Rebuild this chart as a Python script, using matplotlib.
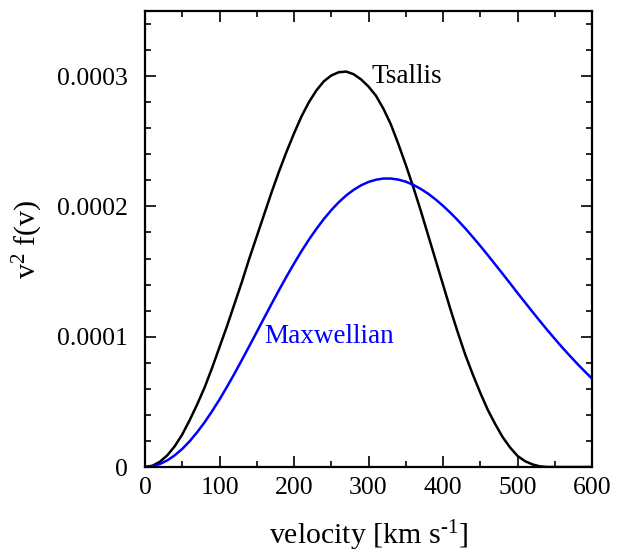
import numpy as np
import matplotlib
matplotlib.use("Agg")
import matplotlib.pyplot as plt
from matplotlib.ticker import MultipleLocator, FixedFormatter, FixedLocator

plt.rcParams['font.family'] = ['Liberation Serif', 'DejaVu Serif']
plt.rcParams['mathtext.fontset'] = 'custom'
plt.rcParams['mathtext.rm'] = 'Liberation Serif'
plt.rcParams['mathtext.it'] = 'Liberation Serif:italic'

# values (v in km/s, v^2 f(v) in units of 1e-4)
v_tsallis = [0, 10, 20, 30, 40, 50, 60, 70, 80, 90, 100, 110, 120, 130, 140,
             150, 160, 170, 180, 190, 200, 210, 220, 230, 240, 250, 260, 270,
             280, 290, 300, 310, 320, 330, 340, 350, 360, 370, 380, 390,
             400, 410, 420, 430, 440, 450, 460, 470, 480, 490, 500, 510, 520,
             530, 540, 550, 575, 600]
f_tsallis = [0, 0.01, 0.04, 0.09, 0.16, 0.25, 0.36, 0.48, 0.61, 0.76, 0.92,
             1.08, 1.25, 1.42, 1.60, 1.77, 1.94, 2.11, 2.27, 2.42, 2.56, 2.69,
             2.80, 2.89, 2.96, 3.005, 3.03, 3.035, 3.015, 2.975, 2.92, 2.85,
             2.75, 2.63, 2.48, 2.32, 2.15, 1.97, 1.78, 1.59, 1.40, 1.21, 1.03,
             0.86, 0.71, 0.57, 0.44, 0.33, 0.23, 0.15, 0.085, 0.045, 0.02,
             0.005, 0, 0, 0, 0]

v_maxwell = [0, 10, 20, 30, 40, 50, 60, 70, 80, 90, 100, 110, 120, 130, 140,
             150, 160, 170, 180, 190, 200, 210, 220, 230, 240, 250, 260, 270,
             280, 290, 300, 310, 320, 330, 340, 350, 360, 370, 380, 390, 400,
             410, 420, 430, 440, 450, 460, 470, 480, 490, 500, 510, 520, 530,
             540, 550, 560, 570, 580, 590, 600]
f_maxwell = [0, 0.006, 0.023, 0.051, 0.090, 0.139, 0.198, 0.267, 0.343, 0.428,
             0.518, 0.615, 0.716, 0.821, 0.928, 1.036, 1.145, 1.253, 1.359,
             1.462, 1.561, 1.656, 1.745, 1.827, 1.903, 1.971, 2.032, 2.084,
             2.127, 2.162, 2.188, 2.205, 2.214, 2.214, 2.206, 2.190, 2.166,
             2.135, 2.098, 2.054, 2.005, 1.951, 1.893, 1.831, 1.765, 1.697,
             1.627, 1.555, 1.483, 1.410, 1.336, 1.264, 1.192, 1.121, 1.051,
             0.984, 0.918, 0.855, 0.794, 0.735, 0.679]

yticks = [0, 1e-4, 2e-4, 3e-4]
ytick_labels = ['0', '0.0001', '0.0002', '0.0003']

fig = plt.figure(figsize=(6.19, 5.52), dpi=100)
ax = fig.add_axes([145/619, 1-467/552, (592-145)/619, (467-11)/552])

ax.plot(v_tsallis, np.array(f_tsallis)*1e-4, color='black', lw=1.8)
ax.plot(v_maxwell, np.array(f_maxwell)*1e-4, color='blue', lw=1.8)

ax.text(304, 3.0e-4, 'Tsallis', fontsize=19.5, color='black', va='center', ha='left')
ax.text(160, 1.0e-4, 'Maxwellian', fontsize=19.5, color='blue', va='center', ha='left')

ax.set_xlim(0, 600)
ax.set_ylim(0, 3.5e-4)
ax.xaxis.set_major_locator(MultipleLocator(100))
ax.xaxis.set_minor_locator(MultipleLocator(50))
ax.yaxis.set_major_locator(FixedLocator(yticks))
ax.yaxis.set_major_formatter(FixedFormatter(ytick_labels))
ax.yaxis.set_minor_locator(MultipleLocator(2e-5))

ax.tick_params(which='both', direction='in', top=True, right=True, width=1.2,
               labelsize=18.5)
ax.tick_params(which='major', length=8)
ax.tick_params(which='minor', length=4.5)
ax.tick_params(axis='x', which='major', pad=7)
ax.tick_params(axis='y', which='major', pad=12)
for s in ax.spines.values():
    s.set_linewidth(1.6)

ax.set_xlabel(r'velocity [km s$^{\text{-1}}$]', fontsize=21.5, labelpad=14)
ax.set_ylabel('v$^{2}$ f(v)', fontsize=21.5, labelpad=9)

fig.savefig('out.png', dpi=100)
